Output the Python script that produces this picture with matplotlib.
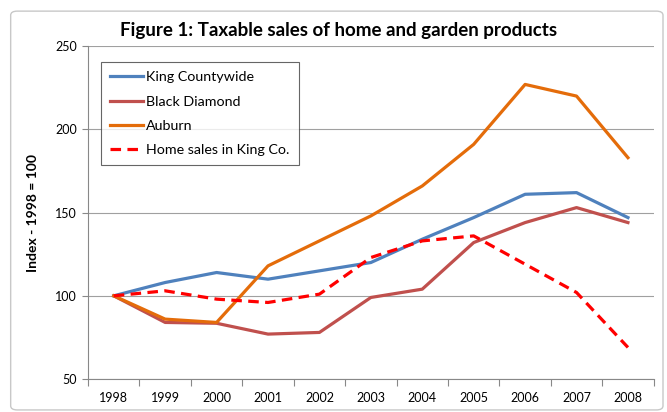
import matplotlib
matplotlib.use("Agg")
import matplotlib.pyplot as plt
from matplotlib.patches import FancyBboxPatch
import numpy as np

years = ["1998", "1999", "2000", "2001", "2002", "2003", "2004", "2005", "2006", "2007", "2008"]
king = [100, 108, 114, 110, 115, 120, 134, 147, 161, 162, 147]
black_diamond = [100, 84, 83.5, 77, 78, 99, 104, 132, 144, 153, 144]
auburn = [100, 86, 84, 118, 133, 148, 166, 191, 227, 220, 183]
home_sales = [100, 103, 98, 96, 101, 123, 133, 136, 119, 102, 69]

plt.rcParams['font.family'] = ['Lato', 'DejaVu Sans']

fig = plt.figure(figsize=(6.67, 4.12), dpi=100)
fig.patch.set_facecolor('white')
border = FancyBboxPatch((0.016, 0.005), 0.978, 0.968, boxstyle="round,pad=0,rounding_size=0.01",
                        transform=fig.transFigure, facecolor='none', edgecolor='#c8c8c8', linewidth=1.0,
                        zorder=-10)
fig.patches.append(border)

ax = fig.add_axes([0.132, 0.080, 0.848, 0.808])
ax.set_facecolor('none')
x = np.arange(len(years))
lw = 2.3
ax.plot(x, king, color='#4F81BD', lw=lw, label='King Countywide', zorder=3)
ax.plot(x, black_diamond, color='#C0504D', lw=lw, label='Black Diamond', zorder=3)
ax.plot(x, auburn, color='#E46C0A', lw=lw, label='Auburn', zorder=3)
ax.plot(x, home_sales, color='#FF0000', lw=lw, ls=(0, (3.3, 2)), label='Home sales in King Co.', zorder=4)

ax.set_xlim(-0.5, len(years) - 0.5)
ax.set_ylim(50, 250)
ax.set_yticks([50, 100, 150, 200, 250])
ax.yaxis.grid(True, color='#a0a0a0', lw=0.8)
ax.set_axisbelow(True)
ax.set_xticks(np.arange(-0.5, len(years), 1.0))
ax.set_xticklabels([])
ax.set_xticks(x, minor=True)
ax.set_xticklabels(years, minor=True)
ax.tick_params(axis='x', which='major', length=5, color='#888888', direction='out')
ax.tick_params(axis='x', which='minor', length=0, pad=9, labelsize=9)
ax.tick_params(axis='y', length=4, color='#888888', labelsize=9, pad=4)
for s in ['top', 'right']:
    ax.spines[s].set_visible(False)
for s in ['left', 'bottom']:
    ax.spines[s].set_color('#888888')
    ax.spines[s].set_linewidth(0.8)

ax.set_ylabel('Index - 1998 = 100', fontsize=10, fontweight='bold', labelpad=12)
fig.text(0.508, 0.925, 'Figure 1: Taxable sales of home and garden products', ha='center', va='center',
         fontsize=13.5, fontweight='bold')

leg = ax.legend(loc='upper left', bbox_to_anchor=(0.023, 0.952), fontsize=10.3, frameon=True, fancybox=False,
                handlelength=2.3, handletextpad=0.2, labelspacing=0.85, borderpad=0.65, borderaxespad=0)
leg.get_frame().set_edgecolor('#404040')
leg.get_frame().set_linewidth(0.8)

fig.savefig('out.png', dpi=100)
